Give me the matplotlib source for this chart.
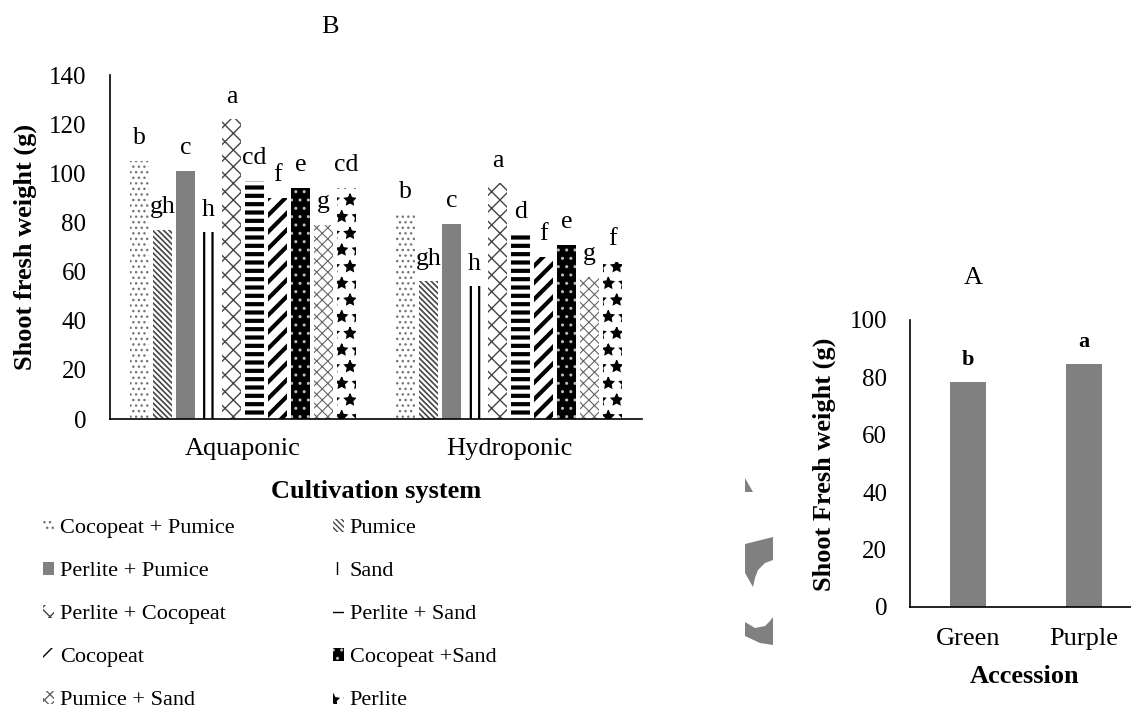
import matplotlib
matplotlib.use("Agg")
import matplotlib.pyplot as plt
from matplotlib.patches import Polygon

# Fonts: Times-like serif for the whole figure
plt.rcParams['font.family'] = ['Liberation Serif', 'DejaVu Serif']

# Data (B): shoot fresh weight per growing medium and cultivation system
systems = ['Aquaponic', 'Hydroponic']
media = ['Cocopeat + Pumice', 'Pumice', 'Perlite + Pumice', 'Sand',
         'Perlite + Cocopeat', 'Perlite + Sand', 'Cocopeat', 'Cocopeat +Sand',
         'Pumice + Sand', 'Perlite']
aquaponic = [105, 77, 101, 76, 122, 97, 90, 94, 79, 94]
hydroponic = [83, 56, 79.5, 54, 96, 75, 66, 71, 58, 64]
letters_aquaponic = ['b', 'gh', 'c', 'h', 'a', 'cd', 'f', 'e', 'g', 'cd']
letters_hydroponic = ['b', 'gh', 'c', 'h', 'a', 'd', 'f', 'e', 'g', 'f']

# Data (A): shoot fresh weight per accession
accessions = ['Green', 'Purple']
accession_weight = [78.5, 84.7]
accession_letters = ['b', 'a']

# Fill style per medium: (facecolor, hatch, hatch colour, hatch linewidth)
styles = [
    ('white', '...', '#777777', 1.0),
    ('white', '\\' * 6, '#444444', 1.2),
    ('#808080', '', '#808080', 1.0),
    ('white', '||', 'black', 1.6),
    ('white', 'xx', '#444444', 1.0),
    ('white', '--', 'black', 3.0),
    ('white', '//', 'black', 3.0),
    ('black', '..', '#bbbbbb', 1.0),
    ('white', 'xxx', '#666666', 0.8),
    ('white', '*', 'black', 1.0),
]

fig = plt.figure(figsize=(11.31, 7.09), dpi=100)

# ---------------- Panel B ----------------
ax = fig.add_axes([0.0973, 0.409, 0.4703, 0.485])
n = len(media)
pitch = 0.0865
width = 0.0714
handles = []
for i, name in enumerate(media):
    face, hatch, hcol, hlw = styles[i]
    xs = [k + (i - (n - 1) / 2) * pitch for k in range(len(systems))]
    vals = [aquaponic[i], hydroponic[i]]
    with plt.rc_context({'hatch.linewidth': hlw}):
        bars = ax.bar(xs, vals, width=width, color=face, edgecolor=hcol,
                      hatch=hatch, linewidth=0, label=name)
    for b in bars:
        try:
            b.set_hatch_linewidth(hlw)
        except AttributeError:
            pass
    handles.append(bars)
    for x, v, lab in zip(xs, vals, [letters_aquaponic[i], letters_hydroponic[i]]):
        ax.annotate(lab, (x, v), xytext=(0, 12), textcoords='offset points',
                    ha='center', va='baseline', fontsize=18.5)

ax.set_xlim(-0.5, 1.5)
ax.set_ylim(0, 140)
ax.set_yticks(range(0, 141, 20))
ax.set_xticks(range(len(systems)))
ax.set_xticklabels(systems)
ax.tick_params(axis='y', length=0, pad=17, labelsize=18)
ax.tick_params(axis='x', length=0, pad=14, labelsize=19)
for s in ['top', 'right']:
    ax.spines[s].set_visible(False)
for s in ['left', 'bottom']:
    ax.spines[s].set_linewidth(1.2)
ax.set_ylabel('Shoot fresh weight (g)', fontsize=19, fontweight='bold', va='center')
ax.yaxis.set_label_coords(-0.16, 0.5)
ax.set_xlabel('Cultivation system', fontsize=19, fontweight='bold', va='center')
ax.xaxis.set_label_coords(0.501, -0.212)
fig.text(330 / 1131, 1 - 27 / 709, 'B', fontsize=19, ha='center', va='center')

# legend in two columns, laid out row by row
leg_kw = dict(loc='upper left', frameon=False, fontsize=16, borderpad=0,
              handlelength=0.5, handleheight=0.5, handletextpad=0.25,
              labelspacing=1.07, borderaxespad=0)
col1 = [handles[i] for i in range(0, n, 2)]
col2 = [handles[i] for i in range(1, n, 2)]
fig.legend(col1, [media[i] for i in range(0, n, 2)],
           bbox_to_anchor=(43 / 1131, 1 - 519 / 709), **leg_kw)
fig.legend(col2, [media[i] for i in range(1, n, 2)],
           bbox_to_anchor=(333 / 1131, 1 - 519 / 709), **leg_kw)

# ---------------- Panel A ----------------
ax2 = fig.add_axes([0.8046, 0.1443, 0.2051, 0.4044])
xs2 = range(len(accessions))
ax2.bar(xs2, accession_weight, width=0.31, color='#808080', linewidth=0)
for x, v, lab in zip(xs2, accession_weight, accession_letters):
    ax2.annotate(lab, (x, v), xytext=(0, 12), textcoords='offset points',
                 ha='center', va='baseline', fontsize=16, fontweight='bold')
ax2.set_xlim(-0.5, 1.5)
ax2.set_ylim(0, 100)
ax2.set_yticks(range(0, 101, 20))
ax2.set_xticks(list(xs2))
ax2.set_xticklabels(accessions)
ax2.tick_params(axis='y', length=0, pad=16.5, labelsize=18)
ax2.tick_params(axis='x', length=0, pad=15, labelsize=19)
for s in ['top', 'right']:
    ax2.spines[s].set_visible(False)
for s in ['left', 'bottom']:
    ax2.spines[s].set_linewidth(1.2)
ax2.set_ylabel('Shoot Fresh weight (g)', fontsize=19, fontweight='bold', va='center')
ax2.yaxis.set_label_coords(-0.371, 0.498)
ax2.set_xlabel('Accession', fontsize=19, fontweight='bold', va='center')
ax2.xaxis.set_label_coords(0.496, -0.245)
fig.text(973 / 1131, 1 - 278 / 709, 'A', fontsize=19, ha='center', va='center')

# leftover gray fragments at the left edge of panel A
def px(points):
    return [(x / 1131, 1 - y / 709) for x, y in points]

fragments = [
    [(745, 478), (745, 492), (753, 492)],
    [(745, 544), (773, 537), (773, 560), (765, 563), (758, 570), (755, 578),
     (753, 587), (745, 573)],
    [(745, 622), (755, 628), (765, 626), (770, 621), (773, 617), (773, 645),
     (760, 643), (745, 636)],
]
for pts in fragments:
    fig.patches.append(Polygon(px(pts), closed=True, transform=fig.transFigure,
                               facecolor='#808080', edgecolor='none'))

fig.savefig('out.png', dpi=100)
